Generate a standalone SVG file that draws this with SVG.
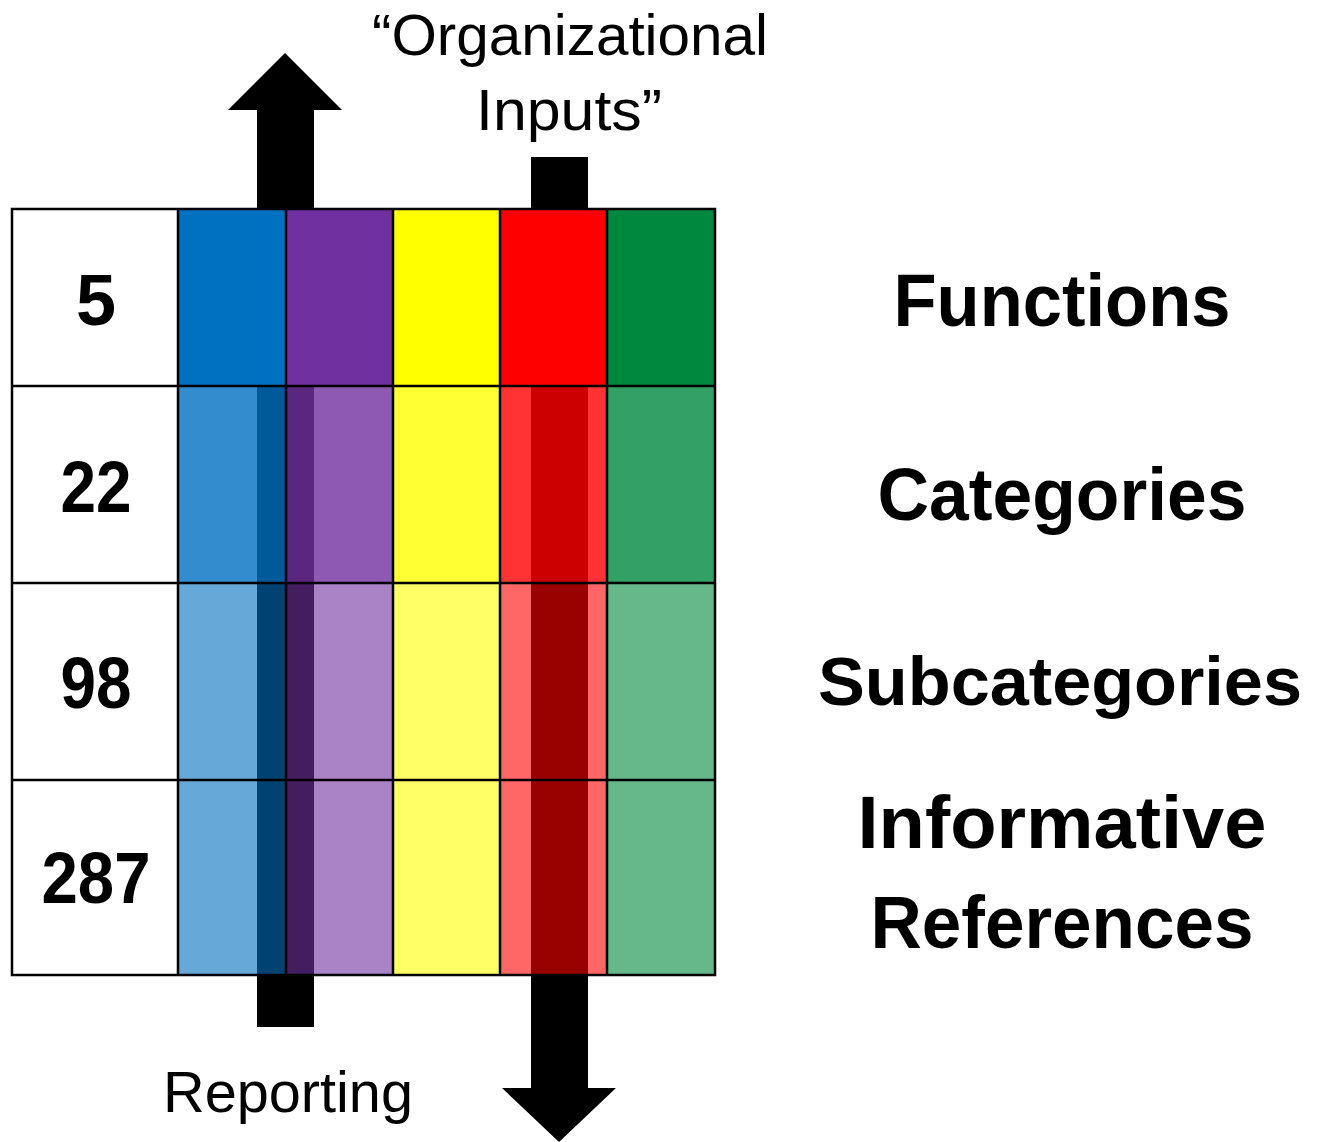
<svg xmlns="http://www.w3.org/2000/svg" width="1320" height="1142" viewBox="0 0 1320 1142">
<style>
.num{font-family:"Liberation Sans",Arial,sans-serif;font-weight:bold;font-size:72px;text-anchor:middle;fill:#000}
.lbl{font-family:"Liberation Sans",Arial,sans-serif;font-weight:bold;font-size:74px;text-anchor:middle;fill:#000}
.cap{font-family:"Liberation Sans",Arial,sans-serif;font-size:58px;text-anchor:middle;fill:#000}
.grid{fill:none;stroke:#000;stroke-width:2.5}
.arrow{fill:#000}
</style>
<rect width="1320" height="1142" fill="#fff"/>
<g id="cells">
<rect x="12" y="209" width="166" height="766" fill="#fff"/>
<rect x="178" y="209" width="108" height="177" fill="#0070C0"/>
<rect x="286" y="209" width="107" height="177" fill="#7030A0"/>
<rect x="393" y="209" width="107" height="177" fill="#FFFF00"/>
<rect x="500" y="209" width="107" height="177" fill="#FF0000"/>
<rect x="607" y="209" width="108" height="177" fill="#00893E"/>
<rect x="178" y="386" width="108" height="197" fill="#338CCD"/>
<rect x="286" y="386" width="107" height="197" fill="#8D59B3"/>
<rect x="393" y="386" width="107" height="197" fill="#FFFF33"/>
<rect x="500" y="386" width="107" height="197" fill="#FF3333"/>
<rect x="607" y="386" width="108" height="197" fill="#33A065"/>
<rect x="178" y="583" width="108" height="392" fill="#66A9D9"/>
<rect x="286" y="583" width="107" height="392" fill="#A983C6"/>
<rect x="393" y="583" width="107" height="392" fill="#FFFF66"/>
<rect x="500" y="583" width="107" height="392" fill="#FF6666"/>
<rect x="607" y="583" width="108" height="392" fill="#66B88B"/>
</g>
<g id="stripes">
<rect x="257" y="386" width="29" height="197" fill="#005A9A"/>
<rect x="286" y="386" width="28" height="197" fill="#5A2680"/>
<rect x="531" y="386" width="57" height="197" fill="#CC0000"/>
<rect x="257" y="583" width="29" height="392" fill="#004373"/>
<rect x="286" y="583" width="28" height="392" fill="#431D60"/>
<rect x="531" y="583" width="57" height="392" fill="#990000"/>
</g>
<g id="gridlines">
<rect class="grid" x="12" y="209" width="703" height="766"/>
<path class="grid" d="M178 209V975M286 209V975M393 209V975M500 209V975M607 209V975M12 386H715M12 583H715M12 780H715"/>
</g>
<g id="connectors">
<path id="reporting-arrow" class="arrow" d="M257 209V110H228L285 53L342 110H314V209Z"/>
<rect id="reporting-stub" class="arrow" x="257" y="975" width="57" height="52"/>
<rect id="inputs-stub" class="arrow" x="531" y="157" width="57" height="52"/>
<path id="inputs-arrow" class="arrow" d="M531 975V1088H502L559 1142L616 1088H588V975Z"/>
</g>
<g id="counts">
<text class="num" x="96" y="325">5</text>
<text class="num" x="96" y="512" textLength="71" lengthAdjust="spacingAndGlyphs">22</text>
<text class="num" x="96" y="708" textLength="71" lengthAdjust="spacingAndGlyphs">98</text>
<text class="num" x="96" y="903" textLength="109" lengthAdjust="spacingAndGlyphs">287</text>
</g>
<g id="labels">
<text id="functions" class="lbl" x="1062" y="326" textLength="337" lengthAdjust="spacingAndGlyphs">Functions</text>
<text id="categories" class="lbl" x="1062" y="520" textLength="369" lengthAdjust="spacingAndGlyphs">Categories</text>
<text id="subcategories" class="lbl" x="1060" y="705" style="font-size:68px" textLength="484" lengthAdjust="spacingAndGlyphs">Subcategories</text>
<text id="informative" class="lbl" x="1062" y="848" textLength="409" lengthAdjust="spacingAndGlyphs">Informative</text>
<text id="references" class="lbl" x="1062" y="948" textLength="383" lengthAdjust="spacingAndGlyphs">References</text>
</g>
<g id="captions">
<text class="cap" x="570" y="55" textLength="396" lengthAdjust="spacingAndGlyphs">“Organizational</text>
<text class="cap" x="569" y="130" textLength="186" lengthAdjust="spacingAndGlyphs">Inputs”</text>
<text class="cap" x="288" y="1112" textLength="250" lengthAdjust="spacingAndGlyphs">Reporting</text>
</g>
</svg>
